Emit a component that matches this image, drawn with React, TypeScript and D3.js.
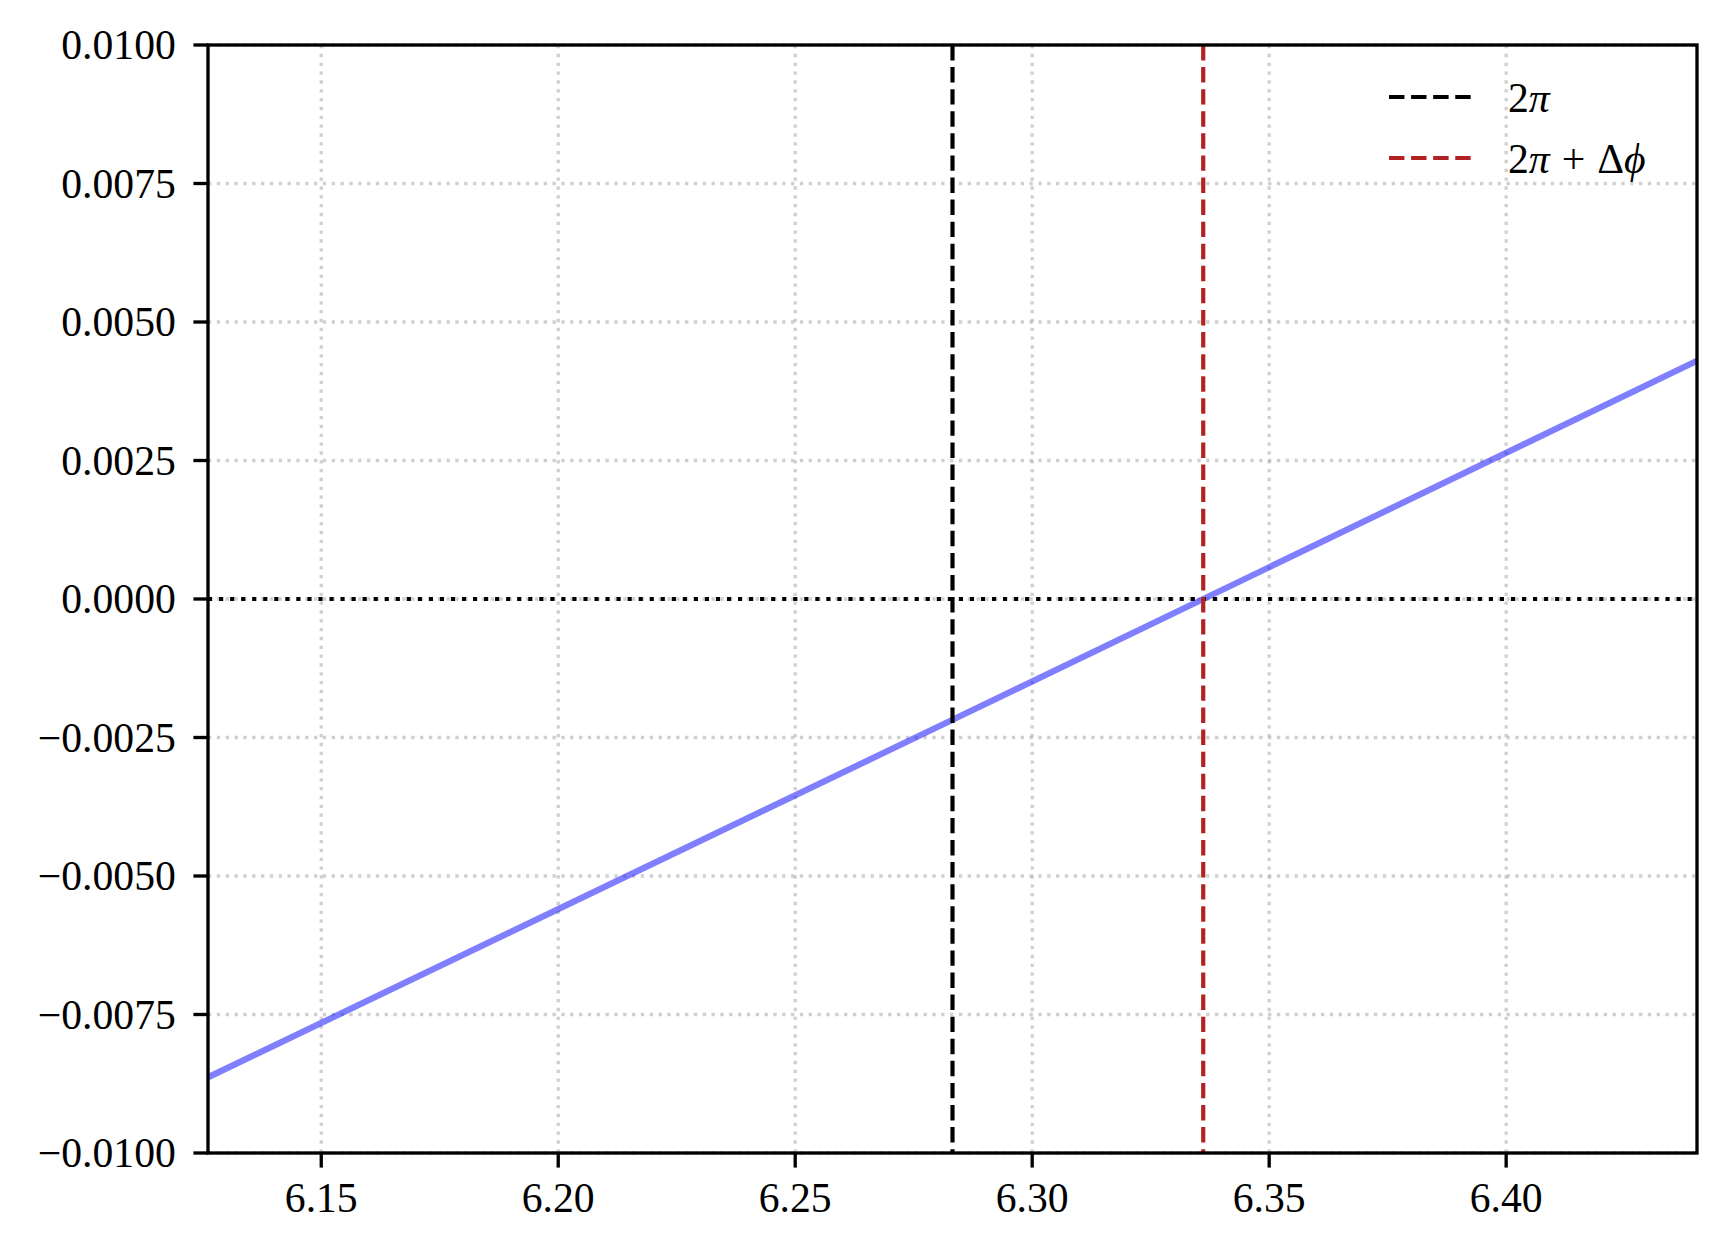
import * as d3 from 'd3';
import React, { useEffect } from 'react';

// values
const xDomain = [2 * Math.PI - Math.PI / 20, 2 * Math.PI + Math.PI / 20];
const yDomain = [-0.01, 0.01];
const xTicks = [6.15, 6.2, 6.25, 6.3, 6.35, 6.4];
const xTickLabels = ['6.15', '6.20', '6.25', '6.30', '6.35', '6.40'];
const yTicks = [-0.01, -0.0075, -0.005, -0.0025, 0, 0.0025, 0.005, 0.0075, 0.01];
const yTickLabels = ['\u22120.0100', '\u22120.0075', '\u22120.0050', '\u22120.0025', '0.0000', '0.0025', '0.0050', '0.0075', '0.0100'];
const curveX = [6.1262, 6.2832, 6.3361, 6.4405];
const curveY = [-0.00863, -0.00218, 0.0, 0.00431];
const twoPi = 2 * Math.PI;
const deltaPhi = 0.0529;

const W = 1725, H = 1250;
const margin = { top: 45, right: 28, bottom: 97, left: 208 };
const pt = 300 / 72;
const font = '"Liberation Serif", "DejaVu Serif", serif';

const App = () => {
  useEffect(() => {
    document.body.style.margin = '0';
  }, []);

  const x = d3.scaleLinear().domain(xDomain).range([margin.left, W - margin.right]);
  const y = d3.scaleLinear().domain(yDomain).range([H - margin.bottom, margin.top]);
  const pts: [number, number][] = curveX.map((v, i) => [v, curveY[i]]);
  const line = d3.line<[number, number]>().x(d => x(d[0])).y(d => y(d[1]));

  const x0 = x.range()[0], x1 = x.range()[1];
  const y0 = y.range()[1], y1 = y.range()[0];
  const tickLen = 3.5 * pt;
  const fs = 10 * pt;

  const legendX = 1389, legendLen = 20 * pt, legendTextX = 1508;
  const legendRows = [
    { color: '#000000', y: 97 },
    { color: '#b22222', y: 158 },
  ];

  return (
    <svg width={W} height={H} style={{ display: 'block', background: '#fff' }}>
      <defs>
        <clipPath id="plot-clip">
          <rect x={x0} y={y0} width={x1 - x0} height={y1 - y0} />
        </clipPath>
      </defs>
      <rect x={0} y={0} width={W} height={H} fill="#fff" />

      {/* grid */}
      <g stroke="#b0b0b0" strokeOpacity={0.6} strokeWidth={0.8 * pt} strokeDasharray={`${0.8 * pt} ${1.32 * pt}`}>
        {xTicks.map(t => (
          <line key={'gx' + t} x1={x(t)} x2={x(t)} y1={y0} y2={y1} />
        ))}
        {yTicks.map(t => (
          <line key={'gy' + t} x1={x0} x2={x1} y1={y(t)} y2={y(t)} />
        ))}
      </g>

      <g clipPath="url(#plot-clip)">
        <path d={line(pts) || ''} fill="none" stroke="#0000ff" strokeOpacity={0.5} strokeWidth={1.5 * pt} />
        <line x1={x0} x2={x1} y1={y(0)} y2={y(0)} stroke="#000" strokeWidth={1 * pt} strokeDasharray={`${1 * pt} ${1.65 * pt}`} />
        <line x1={x(twoPi)} x2={x(twoPi)} y1={y0} y2={y1} stroke="#000" strokeWidth={1 * pt} strokeDasharray={`${3.7 * pt} ${1.6 * pt}`} />
        <line x1={x(twoPi + deltaPhi)} x2={x(twoPi + deltaPhi)} y1={y0} y2={y1} stroke="#b22222" strokeWidth={1 * pt} strokeDasharray={`${3.7 * pt} ${1.6 * pt}`} />
      </g>

      {/* spines */}
      <rect x={x0} y={y0} width={x1 - x0} height={y1 - y0} fill="none" stroke="#000" strokeWidth={0.8 * pt} />

      {/* x ticks */}
      <g fontFamily={font} fontSize={fs} textAnchor="middle" fill="#000">
        {xTicks.map((t, i) => (
          <g key={'xt' + t}>
            <line x1={x(t)} x2={x(t)} y1={y1} y2={y1 + tickLen} stroke="#000" strokeWidth={0.8 * pt} />
            <text x={x(t)} y={y1 + 59}>{xTickLabels[i]}</text>
          </g>
        ))}
      </g>

      {/* y ticks */}
      <g fontFamily={font} fontSize={fs} textAnchor="end" fill="#000">
        {yTicks.map((t, i) => (
          <g key={'yt' + t}>
            <line x1={x0 - tickLen} x2={x0} y1={y(t)} y2={y(t)} stroke="#000" strokeWidth={0.8 * pt} />
            <text x={x0 - tickLen - 3.5 * pt - 3} y={y(t) + 14}>{yTickLabels[i]}</text>
          </g>
        ))}
      </g>

      {/* legend */}
      <g fontFamily={font} fontSize={fs} fill="#000">
        {legendRows.map(r => (
          <line key={r.color} x1={legendX} x2={legendX + legendLen} y1={r.y} y2={r.y} stroke={r.color} strokeWidth={1 * pt} strokeDasharray={`${3.7 * pt} ${1.6 * pt}`} />
        ))}
        <text x={legendTextX} y={112}>
          2<tspan fontStyle="italic">π</tspan>
        </text>
        <text x={legendTextX} y={173}>
          2<tspan fontStyle="italic">π</tspan>
          <tspan dx={12}>+</tspan>
          <tspan dx={12}>Δ</tspan>
          <tspan fontStyle="italic">ϕ</tspan>
        </text>
      </g>
    </svg>
  );
};

export default App;
